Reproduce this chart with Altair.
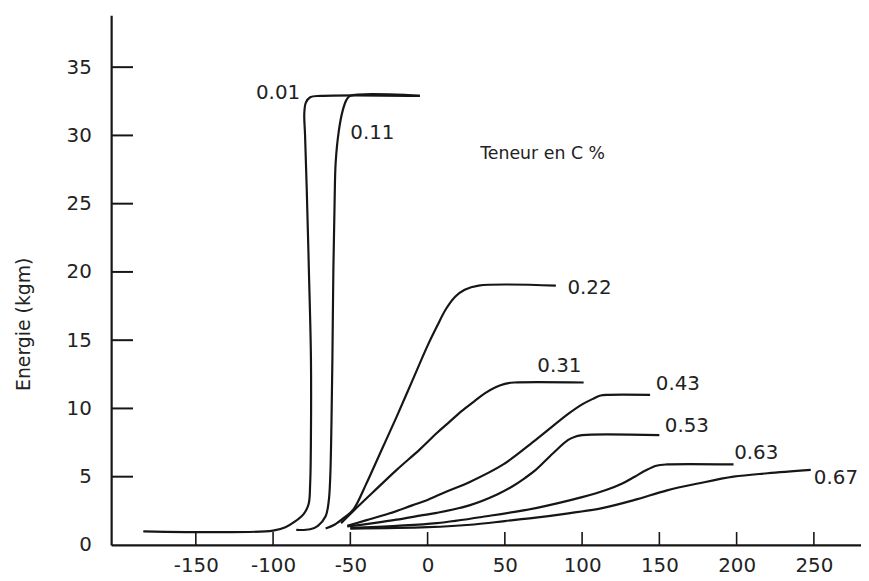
import altair as alt
import pandas as pd

# ---- data (temperature °C, energy kgm) ----
series_names = ["0.01", "0.11", "0.22", "0.31", "0.43", "0.53", "0.63", "0.67"]

t_001 = [-184, -100, -92, -86, -80, -77, -76, -75.5, -75.5, -76.8, -78.2, -79.3, -79.8, -78.8, -76, -69, -5]
e_001 = [1.0, 1.05, 1.3, 1.7, 2.3, 3.0, 4.5, 8, 13.7, 20, 26, 30, 31.6, 32.4, 32.8, 32.9, 32.9]

t_011 = [-85, -76, -71, -66, -64, -63, -62.2, -61.6, -61, -60.2, -59.5, -57.5, -55, -52.5, -50, -5]
e_011 = [1.1, 1.15, 1.4, 2.1, 3.2, 5, 9, 13.7, 20, 25, 28, 30.3, 31.8, 32.6, 32.9, 32.9]

t_022 = [-66, -60, -54, -48, -40, -30, -20, -10, 0, 6, 12, 18, 24, 33, 83]
e_022 = [1.2, 1.5, 2.0, 2.6, 4.4, 6.9, 9.4, 12.0, 14.6, 16.0, 17.3, 18.2, 18.7, 19.0, 19.0]

t_031 = [-56, -47.5, -35, -20, -5, 6, 14, 22, 30, 37, 44, 50, 56, 101]
e_031 = [1.6, 2.55, 3.9, 5.5, 7.0, 8.2, 9.0, 9.8, 10.5, 11.1, 11.55, 11.8, 11.9, 11.9]

t_043 = [-52, -40, -25, -10, 0, 12, 27, 49, 70, 91, 100, 107, 112, 117, 144]
e_043 = [1.4, 1.8, 2.3, 2.9, 3.3, 3.9, 4.6, 5.9, 7.7, 9.6, 10.3, 10.7, 10.95, 11.0, 11.0]

t_053 = [-52, -35, -20, -5, 6, 27, 45, 55, 63, 70, 81, 91, 96, 100, 150]
e_053 = [1.35, 1.6, 1.85, 2.15, 2.35, 2.9, 3.7, 4.3, 4.9, 5.5, 6.7, 7.7, 7.95, 8.05, 8.05]

t_063 = [-50, -20, 6, 38, 70, 100, 115, 126, 134, 141, 148, 155, 198]
e_063 = [1.25, 1.4, 1.6, 2.1, 2.7, 3.5, 4.0, 4.5, 5.0, 5.45, 5.8, 5.9, 5.9]

t_067 = [-50, 0, 30, 50, 70, 90, 113, 134, 155, 175, 198, 220, 248]
e_067 = [1.2, 1.3, 1.5, 1.75, 2.0, 2.3, 2.7, 3.3, 4.0, 4.5, 5.0, 5.25, 5.5]

temps = [t_001, t_011, t_022, t_031, t_043, t_053, t_063, t_067]
energies = [e_001, e_011, e_022, e_031, e_043, e_053, e_063, e_067]

# curve labels
label_text = ["0.11", "0.22", "0.31", "0.43", "0.53", "0.63", "0.67"]
label_t = [-50, 90.5, 71, 147.7, 153.5, 198.4, 250]
label_e = [30.2, 18.8, 13.1, 11.8, 8.7, 6.7, 4.9]
label_left_text = ["0.01"]
label_left_t = [-82.5]
label_left_e = [33.1]
legend_title = "Teneur en C %"
legend_t = [34]
legend_e = [28.6]

x_ticks = [-150, -100, -50, 0, 50, 100, 150, 200, 250]
y_ticks = [0, 5, 10, 15, 20, 25, 30, 35]

# ---- build tables ----
rows = []
for name, ts, es in zip(series_names, temps, energies):
    for i, (t, e) in enumerate(zip(ts, es)):
        rows.append({"c": name, "i": i, "t": t, "e": e})
df = pd.DataFrame(rows)

lab_df = pd.DataFrame({"txt": label_text, "t": label_t, "e": label_e})
lab_l_df = pd.DataFrame({"txt": label_left_text, "t": label_left_t, "e": label_left_e})
leg_df = pd.DataFrame({"txt": [legend_title], "t": legend_t, "e": legend_e})
xt_df = pd.DataFrame({"t": x_ticks})
yt_df = pd.DataFrame({"e": [v for v in y_ticks if v != 0]})

W, H = 756, 534
xs = alt.Scale(domain=[-204.8, 280.5], nice=False, zero=False)
ys = alt.Scale(domain=[0, 38.8], nice=False, zero=False)
FONT = "DejaVu Sans"
INK = "#161616"

x_axis = alt.Axis(
    values=x_ticks, title=None, grid=False, ticks=False,
    domainColor=INK, domainWidth=2.2, labelFont=FONT, labelFontSize=20,
    labelColor="#222", labelPadding=11, labelFlush=False,
    labelExpr="'' + datum.value")
y_axis = alt.Axis(
    values=y_ticks, title="Energie (kgm)", grid=False, ticks=False,
    domainColor=INK, domainWidth=2.2, labelFont=FONT, labelFontSize=20,
    labelColor="#222", labelPadding=20,
    titleFont=FONT, titleFontSize=19, titleFontWeight="normal",
    titleColor="#222", titleX=-88, titleY=311, titleAngle=270,
    titleAlign="center", titleBaseline="middle")

X = alt.X("t:Q", scale=xs, axis=x_axis, title=None)
Y = alt.Y("e:Q", scale=ys, axis=y_axis, title="Energie (kgm)")

lines = alt.Chart(df).mark_line(
    color=INK, strokeWidth=2.2, interpolate="catmull-rom"
).encode(x=X, y=Y, detail="c:N", order="i:Q")

ytick_rules = alt.Chart(yt_df).mark_rule(color=INK, strokeWidth=2).encode(
    y=Y, x=alt.value(0), x2=alt.value(22)
)
xtick_rules = alt.Chart(xt_df).mark_rule(color=INK, strokeWidth=1.6).encode(
    x=X, y=alt.value(H), y2=alt.value(H - 13)
)

labels = alt.Chart(lab_df).mark_text(
    font=FONT, fontSize=20, color="#222", align="left", baseline="middle"
).encode(x=X, y=Y, text="txt:N")

labels_r = alt.Chart(lab_l_df).mark_text(
    font=FONT, fontSize=20, color="#222", align="right", baseline="middle"
).encode(x=X, y=Y, text="txt:N")

legend_txt = alt.Chart(leg_df).mark_text(
    font=FONT, fontSize=17.5, color="#222", align="left", baseline="middle"
).encode(x=X, y=Y, text="txt:N")

chart = alt.layer(
    lines, ytick_rules, xtick_rules, labels, labels_r, legend_txt
).properties(
    width=W, height=H,
    autosize=alt.AutoSizeParams(type="none"),
    padding={"left": 104, "top": 5, "right": 0, "bottom": 34},
    background="white",
).configure_view(stroke=None)

chart.save("out.html", embed_options={"renderer": "svg", "actions": False})
